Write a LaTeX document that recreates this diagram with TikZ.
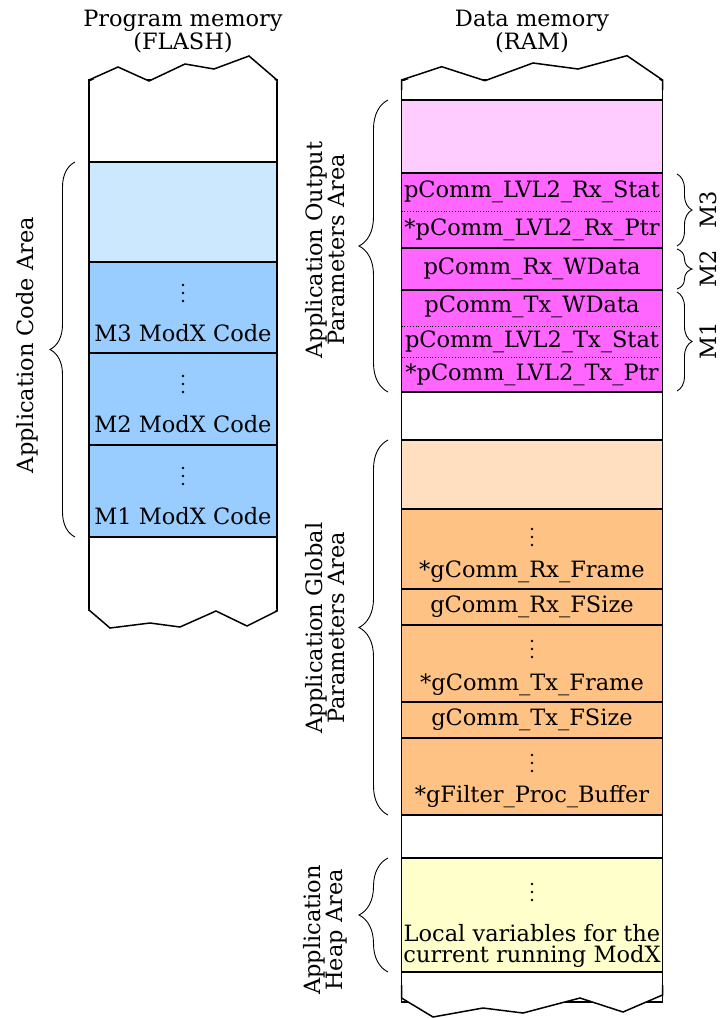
\documentclass[tikz,border=0pt]{standalone}
\usepackage{fontspec}
\setmainfont{DejaVu Serif}
\usetikzlibrary{decorations.pathreplacing,calc}

\definecolor{codelight}{HTML}{CCE8FF}
\definecolor{codeblue}{HTML}{99CCFF}
\definecolor{outlight}{HTML}{FFCCFF}
\definecolor{outmag}{HTML}{FF66FF}
\definecolor{globlight}{HTML}{FFDFBF}
\definecolor{globorange}{HTML}{FFC285}
\definecolor{heapyellow}{HTML}{FFFFCC}

\begin{document}
\begin{tikzpicture}[x=1pt,y=-1pt,
  outline/.style={draw=black,line width=1.5pt,line join=miter},
  cellL/.style={draw=black,line width=1.5pt,minimum width=188pt,minimum height=#1,
                inner sep=0pt,outer sep=0pt,anchor=north west},
  cellR/.style={draw=black,line width=1.5pt,minimum width=261pt,minimum height=#1,
                inner sep=0pt,outer sep=0pt,anchor=north west},
  txt/.style={font=\fontsize{22.5}{21}\selectfont,inner sep=0pt,align=center},
  brc/.style={decorate,decoration={brace,amplitude=#1},line width=0.9pt},
  sep/.style={dotted,line width=0.8pt},
  moredots/.pic={\foreach \d in {-8,0,8} \fill (0,\d) circle (1.35);},
]
\useasboundingbox (0,0) rectangle (723,1018);

% ---------- program memory (FLASH) ----------
\node[txt] (flashtitle) at (183,32) {Program memory\\(FLASH)};

\node[cellL=82,fill=white]      (fTop)   at (89,80)  {};
\node[cellL=100,fill=codelight] (fFree)  at (89,162) {};
\node[cellL=91,fill=codeblue]   (fM3)    at (89,262) {};
\node[cellL=92,fill=codeblue]   (fM2)    at (89,353) {};
\node[cellL=92,fill=codeblue]   (fM1)    at (89,445) {};
\node[cellL=73,fill=white]      (fBot)   at (89,537) {};

% torn edges of the FLASH column
\fill[white] (89,82) -- (118,67) -- (149,81) -- (185,64) -- (214,69) -- (249,56) -- (277,82) -- cycle;
\draw[outline] (89,90) -- (89,80) -- (118,67) -- (149,81) -- (185,64) -- (214,69) -- (249,56) -- (277,80) -- (277,90);
\fill[white] (88,609) -- (110,628) -- (150,623) -- (180,627) -- (216,611) -- (247,626) -- (278,609) -- cycle;
\draw[outline] (89,600) -- (89,610) -- (110,628) -- (150,623) -- (180,627) -- (216,611) -- (247,626) -- (277,611) -- (277,600);

\foreach \c/\m in {fM3/M3,fM2/M2,fM1/M1}{
  \pic (\c dots) at ($(\c.north)+(0,31)$) {moredots};
  \node[txt] (\c txt)  at ($(\c.north)+(0,71)$) {\m\ ModX Code};
}

% ---------- data memory (RAM) ----------
\node[txt] (ramtitle) at (532,32) {Data memory\\(RAM)};

\node[cellR=20,fill=white]       (rTop)  at (401.5,80)  {};
\node[cellR=73,fill=outlight]    (rOut)  at (401.5,100) {};
\node[cellR=75,fill=outmag]      (rM3)   at (401.5,173) {};
\node[cellR=42,fill=outmag]      (rM2)   at (401.5,248) {};
\node[cellR=102,fill=outmag]     (rM1)   at (401.5,290) {};
\node[cellR=48,fill=white]       (rGap1) at (401.5,392) {};
\node[cellR=69,fill=globlight]   (rGlob) at (401.5,440) {};
\node[cellR=80,fill=globorange]  (gRxF)  at (401.5,509) {};
\node[cellR=36,fill=globorange]  (gRxS)  at (401.5,589) {};
\node[cellR=77,fill=globorange]  (gTxF)  at (401.5,625) {};
\node[cellR=36,fill=globorange]  (gTxS)  at (401.5,702) {};
\node[cellR=77,fill=globorange]  (gFilt) at (401.5,738) {};
\node[cellR=43,fill=white]       (rGap2) at (401.5,815) {};
\node[cellR=114,fill=heapyellow] (rHeap) at (401.5,858) {};
\node[cellR=30,fill=white]       (rBot)  at (401.5,972) {};

% torn edges of the RAM column
\fill[white] (401.5,82) -- (441.7,66.7) -- (485,80.7) -- (533,63) -- (578,69) -- (627,55.7) -- (662.5,82) -- cycle;
\draw[outline] (401.5,90) -- (401.5,80) -- (441.7,66.7) -- (485,80.7) -- (533,63) -- (578,69) -- (627,55.7) -- (662.5,80) -- (662.5,90);
\fill[white] (400.5,997) -- (433,1017) -- (483,1008) -- (523,1013) -- (580,998) -- (623,1012) -- (663.5,994) -- cycle;
\draw[outline] (401.5,985) -- (401.5,998) -- (433,1017) -- (483,1008) -- (523,1013) -- (580,998) -- (623,1012) -- (662.5,995) -- (662.5,985);

% output parameters
\node[txt] (tRxStat) at ($(rM3.north)+(0,19)$) {pComm\_LVL2\_Rx\_Stat};
\node[txt] (tRxPtr)  at ($(rM3.north)+(0,57)$) {*pComm\_LVL2\_Rx\_Ptr};
\draw[sep] ($(rM3.north west)!0.51!(rM3.south west)$) -- ($(rM3.north east)!0.51!(rM3.south east)$);
\node[txt] (tRxWD)   at (rM2.center) {pComm\_Rx\_WData};
\node[txt] (tTxWD)   at ($(rM1.north)+(0,17)$) {pComm\_Tx\_WData};
\node[txt] (tTxStat) at ($(rM1.north)+(0,52)$) {pComm\_LVL2\_Tx\_Stat};
\node[txt] (tTxPtr)  at ($(rM1.north)+(0,85)$) {*pComm\_LVL2\_Tx\_Ptr};
\draw[sep] ($(rM1.north west)!0.36!(rM1.south west)$) -- ($(rM1.north east)!0.36!(rM1.south east)$);
\draw[sep] ($(rM1.north west)!0.66!(rM1.south west)$) -- ($(rM1.north east)!0.66!(rM1.south east)$);

% global parameters
\pic (dRxF) at ($(gRxF.north)+(0,28)$) {moredots};
\node[txt] (tRxF) at ($(gRxF.north)+(0,63)$) {*gComm\_Rx\_Frame};
\node[txt] (tRxS) at (gRxS.center) {gComm\_Rx\_FSize};
\pic (dTxF) at ($(gTxF.north)+(0,24)$) {moredots};
\node[txt] (tTxF) at ($(gTxF.north)+(0,60)$) {*gComm\_Tx\_Frame};
\node[txt] (tTxS) at (gTxS.center) {gComm\_Tx\_FSize};
\pic (dFilt) at ($(gFilt.north)+(0,25)$) {moredots};
\node[txt] (tFilt) at ($(gFilt.north)+(0,59)$) {*gFilter\_Proc\_Buffer};

% heap
\pic (dHeap) at ($(rHeap.north)+(0,34)$) {moredots};
\node[txt] (tHeap) at ($(rHeap.north)+(0,88)$) {Local variables for the\\current running ModX};

% ---------- area braces ----------
\coordinate (caB) at (75,537);  \coordinate (caT) at (75,162);
\draw[brc=25] (caB) -- (caT);
\node[txt,rotate=90] (lCode) at (27,345) {Application Code Area};

\coordinate (opB) at (388,392); \coordinate (opT) at (388,100);
\draw[brc=29] (opB) -- (opT);
\node[txt,rotate=90] (lOut) at (325,250) {Application Output\\Parameters Area};

\coordinate (gpB) at (388,815); \coordinate (gpT) at (388,440);
\draw[brc=29] (gpB) -- (gpT);
\node[txt,rotate=90] (lGlob) at (325,628) {Application Global\\Parameters Area};

\coordinate (hpB) at (388,972); \coordinate (hpT) at (388,858);
\draw[brc=29] (hpB) -- (hpT);
\node[txt,rotate=90] (lHeap) at (325,930) {Application\\Heap Area};

% ---------- module braces ----------
\coordinate (m3T) at (677,174); \coordinate (m3B) at (677,246);
\draw[brc=15] (m3T) -- (m3B);
\node[txt,rotate=90] (lM3) at (708,210) {M3};
\coordinate (m2T) at (677,249); \coordinate (m2B) at (677,289);
\draw[brc=15] (m2T) -- (m2B);
\node[txt,rotate=90] (lM2) at (708,269) {M2};
\coordinate (m1T) at (677,292); \coordinate (m1B) at (677,391);
\draw[brc=15] (m1T) -- (m1B);
\node[txt,rotate=90] (lM1) at (708,341) {M1};
\end{tikzpicture}
\end{document}
